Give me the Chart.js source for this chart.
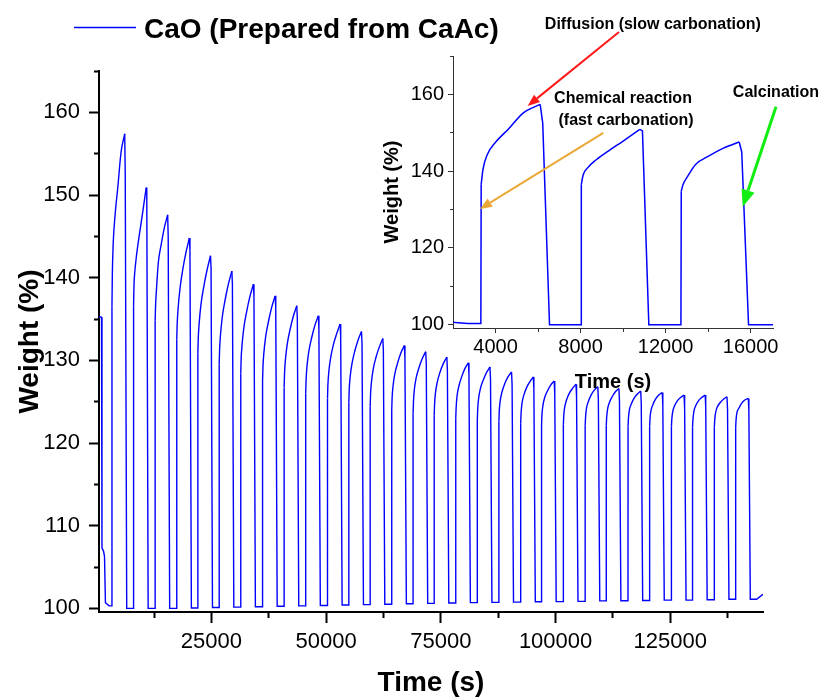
<!DOCTYPE html>
<html>
<head>
<meta charset="utf-8">
<title>CaO (Prepared from CaAc)</title>
<script src="https://cdn.jsdelivr.net/npm/chart.js@4.4.1/dist/chart.umd.min.js"></script>
<style>
  html, body { margin: 0; padding: 0; background: #fff; }
  #wrap { position: relative; width: 820px; height: 697px; }
  #wrap canvas { position: absolute; left: 0; top: 0; }
</style>
</head>
<body>
<div id="wrap">
  <canvas id="main" width="820" height="697"></canvas>
  <canvas id="inset" width="820" height="697"></canvas>
</div>
<script>
// TGA weight trace, 30 carbonation / calcination cycles
const startTimes   = [500, 1050, 1150, 1500, 1700, 1900, 2100, 2700];
const startWeights = [135.3, 135.2, 107.3, 106.9, 106.3, 100.7, 100.6, 100.3];

// per cycle: CO2 switched on, peak (end of carbonation), back to CaO
const riseTimes = [3310, 8020, 12720, 17430, 22030, 26680, 31380, 36130, 40830, 45530,
  50280, 54930, 59580, 64280, 68930, 73530, 78230, 82930, 87630, 92380,
  96930, 101680, 106430, 111030, 115780, 120480, 125230, 129830, 134580, 139230];
const peakTimes = [6100, 10790, 15460, 20200, 24800, 29450, 34150, 38900, 43600, 48300,
  53050, 57700, 62350, 67050, 71700, 76300, 81000, 85700, 90400, 95150,
  99700, 104450, 109200, 113800, 118550, 123250, 128000, 132600, 137350, 142000];
const dropTimes = [6540, 11210, 15900, 20630, 25230, 29880, 34580, 39330, 44030, 48730,
  53480, 58130, 62780, 67480, 72130, 76730, 81430, 86130, 90830, 95580,
  100130, 104880, 109630, 114230, 118980, 123680, 128430, 133030, 137780, 142430];

// weight read 15, 100, 300, 700, 1300 and 2000 s after each rise
const sampleOffsets = [15, 100, 300, 700, 1300, 2000];
const w15 = [136.5, 136.5, 134.8, 132.5, 130.8, 129.5, 128.4, 127.5, 126.7, 126.0,
  125.4, 124.9, 124.4, 124.0, 123.6, 123.3, 123.0, 122.8, 122.6, 122.4,
  122.3, 122.2, 122.1, 122.1, 122.0, 122.0, 122.0, 121.9, 121.9, 121.9];
const w100 = [140.5, 139.0, 136.5, 134.3, 132.6, 131.3, 130.2, 129.2, 128.4, 127.6,
  127.0, 126.5, 125.9, 125.5, 125.0, 124.7, 124.3, 124.1, 123.9, 123.6,
  123.4, 123.3, 123.1, 123.1, 123.0, 123.0, 122.9, 122.8, 122.8, 122.8];
const w300 = [144.3, 140.8, 138.5, 136.2, 134.5, 133.1, 131.9, 130.9, 130.1, 129.3,
  128.6, 128.0, 127.4, 126.9, 126.5, 126.1, 125.7, 125.4, 125.1, 124.8,
  124.5, 124.3, 124.2, 124.1, 124.0, 123.9, 123.8, 123.8, 123.7, 123.7];
const w700 = [147.6, 142.9, 141.8, 138.6, 136.8, 135.3, 134.0, 132.9, 132.0, 131.1,
  130.3, 129.6, 129.0, 128.4, 127.9, 127.4, 126.9, 126.6, 126.2, 125.8,
  125.5, 125.2, 125.0, 124.9, 124.7, 124.6, 124.5, 124.5, 124.4, 124.2];
const w1300 = [151.0, 145.3, 143.9, 140.9, 138.9, 137.3, 135.9, 134.7, 133.7, 132.7,
  131.9, 131.1, 130.4, 129.7, 129.1, 128.6, 128.0, 127.6, 127.2, 126.7,
  126.3, 126.0, 125.8, 125.6, 125.4, 125.3, 125.1, 125.1, 124.9, 124.8];
const w2000 = [155.2, 147.9, 146.0, 143.0, 140.9, 139.2, 137.7, 136.4, 135.3, 134.2,
  133.2, 132.4, 131.6, 130.9, 130.2, 129.6, 129.0, 128.5, 128.0, 127.4,
  127.0, 126.6, 126.4, 126.2, 125.9, 125.8, 125.5, 125.5, 125.3, 125.2];
const peakWeights = [157.4, 150.9, 147.6, 144.8, 142.65, 140.8, 139.2, 137.8, 136.6, 135.4,
  134.4, 133.5, 132.65, 131.8, 131.05, 130.4, 129.7, 129.2, 128.6, 128.0,
  127.5, 127.1, 126.8, 126.6, 126.3, 126.1, 125.8, 125.8, 125.6, 125.4];
// weight 120 s after the peak, where calcination starts to bite
const shoulderWeights = [152.5, 150.5, 145.0, 143.3, 141.2, 139.3, 137.7, 136.3, 135.1, 133.9,
  132.9, 132.0, 131.2, 130.3, 129.6, 128.9, 128.2, 127.7, 127.1, 126.5,
  126.0, 125.6, 125.3, 125.1, 124.8, 124.6, 124.3, 124.3, 124.1, 123.9];
const baseWeights = [100.0, 100.0, 100.0, 100.05, 100.1, 100.15, 100.2, 100.25, 100.3, 100.35,
  100.4, 100.45, 100.5, 100.55, 100.6, 100.65, 100.7, 100.72, 100.75, 100.8,
  100.82, 100.85, 100.9, 100.92, 100.95, 101.0, 101.0, 101.05, 101.1, 101.1];

const endTimes   = [143800, 145200];
const endWeights = [101.1, 101.7];

// axis ticks
const mainXMajor  = [25000, 50000, 75000, 100000, 125000];
const mainXMinor  = [12500, 37500, 62500, 87500, 112500, 137500];
const mainYMajor  = [100, 110, 120, 130, 140, 150, 160];
const mainYMinor  = [105, 115, 125, 135, 145, 155, 165];
const insetXMajor = [4000, 8000, 12000, 16000];
const insetXMinor = [6000, 10000, 14000];
const insetYMajor = [100, 120, 140, 160];
const insetYMinor = [110, 130, 150, 170];

const FONT = "'Liberation Sans', Arial, Helvetica, sans-serif";
const LABEL = 'CaO (Prepared from CaAc)';
const BLUE = '#0000ff';

// The trace is split in two: the carbonation arcs are drawn smooth (monotone),
// the vertical steps, drops and flat CaO stretches stay straight.
function tracePieces() {
  const reads = [w15, w100, w300, w700, w1300, w2000];
  const straight = startTimes.map((t, i) => ({ x: t, y: startWeights[i] }));
  const smooth = [];
  let prev = startWeights[startWeights.length - 1];
  riseTimes.forEach((tr, i) => {
    straight.push({ x: tr, y: prev }, { x: tr + sampleOffsets[0], y: w15[i] }, { x: tr + 50, y: null });
    sampleOffsets.forEach((dt, k) => smooth.push({ x: tr + dt, y: reads[k][i] }));
    smooth.push({ x: peakTimes[i], y: peakWeights[i] }, { x: peakTimes[i] + 60, y: null });
    straight.push(
      { x: peakTimes[i], y: peakWeights[i] },
      { x: peakTimes[i] + 120, y: shoulderWeights[i] },
      { x: dropTimes[i], y: baseWeights[i] },
    );
    prev = baseWeights[i];
  });
  endTimes.forEach((t, i) => straight.push({ x: t, y: endWeights[i] }));
  return { straight, smooth };
}
const trace = tracePieces();

function traceDatasets(width) {
  return [
    { label: LABEL, data: trace.straight, borderColor: BLUE, borderWidth: width, fill: false, tension: 0 },
    { label: LABEL, data: trace.smooth, borderColor: BLUE, borderWidth: width, fill: false,
      cubicInterpolationMode: 'monotone' },
  ];
}

function fixedTicks(major, minor) {
  return (scale) => {
    scale.ticks = major.concat(minor).sort((a, b) => a - b).map((value) => ({ value }));
  };
}
const majorLabel = (major) => (v) => (major.includes(v) ? String(v) : '');

// minor ticks are shorter; a left axis draws its ticks from the outer end inwards
function tickDash(minor, len, minorLen, fromOuter) {
  return (c) => {
    if (!(c.tick && minor.includes(c.tick.value))) return [len, 300];
    return fromOuter ? [0, len - minorLen, minorLen, 300] : [minorLen, 300];
  };
}

function axis({ side, min, max, major, minor, fit, tick, minorLen, color, width, font, pad, title, titleFont, titlePad }) {
  return {
    type: 'linear', min, max,
    afterBuildTicks: fixedTicks(major, minor),
    afterFit: fit,
    border: { display: true, color, width },
    grid: {
      drawOnChartArea: false, drawTicks: true, tickLength: tick,
      tickColor: color, tickWidth: width,
      tickBorderDash: tickDash(minor, tick, minorLen, side === 'left'),
    },
    ticks: {
      autoSkip: false, maxRotation: 0, padding: pad, color: '#000',
      font: { family: FONT, size: font },
      callback: majorLabel(major),
    },
    title: {
      display: true, text: title, color: '#000',
      font: { family: FONT, size: titleFont, weight: 'bold', lineHeight: 1.2 },
      padding: titlePad,
    },
  };
}

// series key drawn above the main plot
const seriesKey = {
  id: 'seriesKey',
  afterDraw(chart) {
    const { ctx } = chart;
    const ds = chart.data.datasets[0];
    ctx.save();
    ctx.strokeStyle = ds.borderColor;
    ctx.lineWidth = 1.3;
    ctx.beginPath();
    ctx.moveTo(74, 27.5);
    ctx.lineTo(136, 27.5);
    ctx.stroke();
    ctx.fillStyle = '#000';
    ctx.font = `bold 28px ${FONT}`;
    ctx.textBaseline = 'alphabetic';
    ctx.fillText(ds.label, 144, 38);
    ctx.restore();
  },
};

// arrows and captions on the inset, in data coordinates (time, weight)
const notes = [
  { text: 'Diffusion (slow carbonation)', t: 11400, w: 178.3 },
  { text: 'Chemical reaction', t: 9995, w: 158.8 },
  { text: '(fast carbonation)', t: 10140, w: 153.1 },
  { text: 'Calcination', t: 17190, w: 160.4 },
];
const arrows = [
  { from: [9807, 176.25], to: [5513, 157.0], color: '#ff1a1a', width: 2, head: 12 },
  { from: [9069, 150.0], to: [3270, 130.15], color: '#e9a838', width: 2, head: 12 },
  { from: [17191, 156.8], to: [15625, 130.75], color: '#12ee12', width: 3, head: 17 },
];

const insetNotes = {
  id: 'insetNotes',
  afterDraw(chart) {
    const { ctx } = chart;
    const { x, y } = chart.scales;
    const px = (t) => x.getPixelForValue(t);
    const py = (w) => y.getPixelForValue(w);
    ctx.save();
    arrows.forEach((a) => {
      const x1 = px(a.from[0]), y1 = py(a.from[1]);
      const x2 = px(a.to[0]), y2 = py(a.to[1]);
      const ang = Math.atan2(y2 - y1, x2 - x1);
      const bx = x2 - a.head * Math.cos(ang), by = y2 - a.head * Math.sin(ang);
      ctx.strokeStyle = a.color;
      ctx.fillStyle = a.color;
      ctx.lineWidth = a.width;
      ctx.beginPath();
      ctx.moveTo(x1, y1);
      ctx.lineTo(bx, by);
      ctx.stroke();
      const hw = a.head * 0.4;
      ctx.beginPath();
      ctx.moveTo(x2, y2);
      ctx.lineTo(bx + hw * Math.sin(ang), by - hw * Math.cos(ang));
      ctx.lineTo(bx - hw * Math.sin(ang), by + hw * Math.cos(ang));
      ctx.closePath();
      ctx.fill();
    });
    ctx.fillStyle = '#000';
    ctx.font = `bold 16px ${FONT}`;
    ctx.textAlign = 'center';
    ctx.textBaseline = 'middle';
    notes.forEach((n) => ctx.fillText(n.text, px(n.t), py(n.w)));
    ctx.restore();
  },
};

const common = {
  responsive: false,
  animation: false,
  devicePixelRatio: 1,
  plugins: { legend: { display: false }, tooltip: { enabled: false } },
  elements: { point: { radius: 0 } },
  spanGaps: false,
};

new Chart(document.getElementById('main'), {
  type: 'line',
  data: { datasets: traceDatasets(1.4) },
  options: {
    ...common,
    layout: { padding: { left: 0, right: 57, top: 71, bottom: 0 } },
    scales: {
      x: axis({
        side: 'bottom', min: 500, max: 145200, major: mainXMajor, minor: mainXMinor,
        fit: (s) => { s.height = 85; }, tick: 11, minorLen: 5, color: '#000', width: 2,
        font: 22, pad: 6, title: 'Time (s)', titleFont: 28, titlePad: { top: 0, bottom: -3 },
      }),
      y: axis({
        side: 'left', min: 99.56, max: 165, major: mainYMajor, minor: mainYMinor,
        fit: (s) => { s.width = 99; }, tick: 10, minorLen: 5, color: '#000', width: 2,
        font: 22, pad: 9, title: 'Weight (%)', titleFont: 28, titlePad: { top: 13, bottom: 0 },
      }),
    },
  },
  plugins: [seriesKey],
});

new Chart(document.getElementById('inset'), {
  type: 'line',
  data: { datasets: traceDatasets(1.5) },
  options: {
    ...common,
    layout: { padding: { left: 370, right: 47, top: 56, bottom: 303 } },
    scales: {
      x: axis({
        side: 'bottom', min: 2000, max: 17050, major: insetXMajor, minor: insetXMinor,
        fit: (s) => { s.height = 66; }, tick: 5, minorLen: 3, color: '#333', width: 1,
        font: 20, pad: 2, title: 'Time (s)', titleFont: 20, titlePad: { top: 0, bottom: 0 },
      }),
      y: axis({
        side: 'left', min: 99.15, max: 170, major: insetYMajor, minor: insetYMinor,
        fit: (s) => { s.width = 83; }, tick: 5, minorLen: 3, color: '#333', width: 1,
        font: 20, pad: 4, title: 'Weight (%)', titleFont: 20, titlePad: { top: 10, bottom: 0 },
      }),
    },
  },
  plugins: [insetNotes],
});
</script>
</body>
</html>
